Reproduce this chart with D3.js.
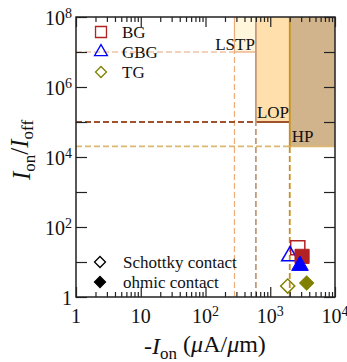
<!DOCTYPE html>
<html>
<head>
<meta charset="utf-8">
<script src="https://cdn.jsdelivr.net/npm/d3@7"></script>
<style>
body { margin: 0; background: #fff; }
text { font-family: "Liberation Serif", "Times New Roman", serif; fill: #111; }
</style>
</head>
<body>
<svg id="chart" width="347" height="362"></svg>
<script>
// data
const seriesNames = ["BG", "GBG", "TG"]
const seriesColors = ["#b22222", "#0000ff", "#808000"]
const schottkyIon = [2660, 2020, 1860]
const schottkyRatio = [25.5, 14.8, 2.06]
const ohmicIon = [3100, 2880, 3650]
const ohmicRatio = [14.5, 7.9, 2.5]

const regionNames = ["LSTP", "LOP", "HP"]
const regionIon = [280, 600, 2000]
const regionRatio = [1e7, 1e5, 2e4]
const regionFill = ["#fff6dc", "#ffdfab", "#d2b48c"]
const regionVColor = ["#eeab78", "#c49a7c", "#c8901a"]
const regionHColor = ["#e8a476", "#a0522d", "#dcb870"]

const xMajor = [1, 10, 100, 1000, 10000]
const xLabels = ["1", "10", "10^2", "10^3", "10^4"]
const yMajor = [1, 1e1, 1e2, 1e3, 1e4, 1e5, 1e6, 1e7, 1e8]
const yLabelled = [1, 1e2, 1e4, 1e6, 1e8]
const yLabels = ["1", "10^2", "10^4", "10^6", "10^8"]

const margin = {left: 76, top: 17, right: 12, bottom: 65}
const width = 347 - margin.left - margin.right
const height = 362 - margin.top - margin.bottom

const svg = d3.select("#chart")
const g = svg.append("g").attr("transform", `translate(${margin.left},${margin.top})`)

const x = d3.scaleLog().domain([1, 1e4]).range([0, width])
const y = d3.scaleLog().domain([1, 1e8]).range([height, 0])

// shaded regions
regionNames.forEach((name, i) => {
	let x0 = x(regionIon[i])
	let x1 = i < regionNames.length - 1 ? x(regionIon[i + 1]) : width
	let y0 = y(regionRatio[i])
	g.append("rect")
		.attr("x", x0).attr("y", 0)
		.attr("width", x1 - x0).attr("height", y0)
		.attr("fill", regionFill[i])
})

// threshold lines: dashed from axes to box, solid along box edge
regionNames.forEach((name, i) => {
	let x0 = x(regionIon[i])
	let x1 = i < regionNames.length - 1 ? x(regionIon[i + 1]) : width
	let y0 = y(regionRatio[i])
	let sw = i == 0 ? 1.2 : 1.8
	g.append("line")
		.attr("x1", 0).attr("x2", x0).attr("y1", y0).attr("y2", y0)
		.attr("stroke", regionHColor[i]).attr("stroke-width", sw)
		.attr("stroke-dasharray", "6,3")
	g.append("line")
		.attr("x1", x0).attr("x2", x1).attr("y1", y0).attr("y2", y0)
		.attr("stroke", regionHColor[i]).attr("stroke-width", sw)
	g.append("line")
		.attr("x1", x0).attr("x2", x0).attr("y1", height).attr("y2", y0)
		.attr("stroke", regionVColor[i]).attr("stroke-width", sw)
		.attr("stroke-dasharray", "6,3")
	g.append("line")
		.attr("x1", x0).attr("x2", x0).attr("y1", y0).attr("y2", 0)
		.attr("stroke", regionVColor[i]).attr("stroke-width", sw)
})

// region labels
g.append("text").attr("x", x(regionIon[1]) - 1).attr("y", y(regionRatio[0]) - 2)
	.attr("text-anchor", "end").attr("font-size", 17).text(regionNames[0])
g.append("text").attr("x", x(regionIon[1]) + 1).attr("y", y(regionRatio[1]) - 4)
	.attr("font-size", 17).text(regionNames[1])
g.append("text").attr("x", x(regionIon[2]) + 2).attr("y", y(regionRatio[2]) - 4)
	.attr("font-size", 17).text(regionNames[2])

// axes
function supLabel(sel, labels) {
	sel.each(function(d, i) {
		let t = d3.select(this).text("")
		let parts = labels[i].split("^")
		t.append("tspan").text(parts[0])
		if (parts[1]) t.append("tspan").attr("dy", "-0.5em").attr("font-size", 14).text(parts[1])
	})
}

const xMinor = x.ticks().filter(v => !xMajor.includes(v))

const bottomAxis = g.append("g").attr("transform", `translate(0,${height})`)
	.call(d3.axisBottom(x).tickValues(xMajor).tickSize(-10).tickSizeOuter(0).tickFormat(""))
bottomAxis.append("g").call(d3.axisBottom(x).tickValues(xMinor).tickSize(-5).tickSizeOuter(0).tickFormat(""))
const topAxis = g.append("g")
	.call(d3.axisTop(x).tickValues(xMajor).tickSize(-10).tickSizeOuter(0).tickFormat(""))
topAxis.append("g").call(d3.axisTop(x).tickValues(xMinor).tickSize(-5).tickSizeOuter(0).tickFormat(""))
g.append("g").call(d3.axisLeft(y).tickValues(yMajor).tickSize(-11).tickSizeOuter(0).tickFormat(""))
g.append("g").attr("transform", `translate(${width},0)`)
	.call(d3.axisRight(y).tickValues(yMajor).tickSize(-11).tickSizeOuter(0).tickFormat(""))

g.selectAll(".domain").remove()
g.selectAll(".tick line").attr("stroke", "#222").attr("stroke-width", 1.2)

g.append("rect").attr("width", width).attr("height", height)
	.attr("fill", "none").attr("stroke", "#222").attr("stroke-width", 1.5)

g.selectAll(".xlab").data(xMajor).join("text")
	.attr("class", "xlab")
	.attr("x", d => x(d)).attr("y", height + 26)
	.attr("text-anchor", "middle").attr("font-size", 20)
	.call(supLabel, xLabels)

g.selectAll(".ylab").data(yLabelled).join("text")
	.attr("class", "ylab")
	.attr("x", -4).attr("y", d => y(d) + 8)
	.attr("text-anchor", "end").attr("font-size", 20)
	.call(supLabel, yLabels)

// axis titles
const xt = svg.append("text").attr("x", 205).attr("y", 354)
	.attr("text-anchor", "middle").attr("font-size", 24)
xt.append("tspan").text("-")
xt.append("tspan").attr("font-style", "italic").text("I")
xt.append("tspan").attr("font-size", 17).attr("dy", "0.3em").text("on")
xt.append("tspan").attr("dy", "-0.3em").text(" (")
xt.append("tspan").attr("font-style", "italic").text("μ")
xt.append("tspan").text("A/")
xt.append("tspan").attr("font-style", "italic").text("μ")
xt.append("tspan").text("m)")

const yt = svg.append("text").attr("transform", "translate(30,150) rotate(-90)")
	.attr("text-anchor", "middle").attr("font-size", 25)
yt.append("tspan").attr("font-style", "italic").text("I")
yt.append("tspan").attr("font-size", 17).attr("dy", "0.3em").text("on")
yt.append("tspan").attr("dy", "-0.3em").text("/")
yt.append("tspan").attr("font-style", "italic").text("I")
yt.append("tspan").attr("font-size", 17).attr("dy", "0.3em").text("off")

// markers
function symbolPath(i, size) {
	if (i == 0) return d3.symbol(d3.symbolSquare, size)()
	if (i == 1) return d3.symbol(d3.symbolTriangle, size * 0.6)()
	return d3.symbol(d3.symbolSquare, size * 0.5)()
}
function symbolRotate(i) { return i == 2 ? " rotate(45)" : "" }

seriesNames.forEach((name, i) => {
	g.append("path")
		.attr("d", symbolPath(i, 200))
		.attr("transform", `translate(${x(schottkyIon[i])},${y(schottkyRatio[i])})` + symbolRotate(i))
		.attr("fill", "none").attr("stroke", seriesColors[i]).attr("stroke-width", 1.5)
})
seriesNames.forEach((name, i) => {
	g.append("path")
		.attr("d", symbolPath(i, 200))
		.attr("transform", `translate(${x(ohmicIon[i])},${y(ohmicRatio[i])})` + symbolRotate(i))
		.attr("fill", seriesColors[i]).attr("stroke", seriesColors[i]).attr("stroke-width", 1)
})

// legends
seriesNames.forEach((name, i) => {
	g.append("path")
		.attr("d", symbolPath(i, 120))
		.attr("transform", `translate(25,${15 + i * 20})` + symbolRotate(i))
		.attr("fill", "none").attr("stroke", seriesColors[i]).attr("stroke-width", 1.3)
	g.append("text").attr("x", 46).attr("y", 21 + i * 20)
		.attr("font-size", 17).text(name)
})
const contactNames = ["Schottky contact", "ohmic contact"]
contactNames.forEach((name, i) => {
	g.append("path")
		.attr("d", symbolPath(2, 120))
		.attr("transform", `translate(24,${245 + i * 20})` + symbolRotate(2))
		.attr("fill", i == 0 ? "none" : "#000").attr("stroke", "#000").attr("stroke-width", 1.3)
	g.append("text").attr("x", 47).attr("y", 251 + i * 20)
		.attr("font-size", 17).text(name)
})
</script>
</body>
</html>
